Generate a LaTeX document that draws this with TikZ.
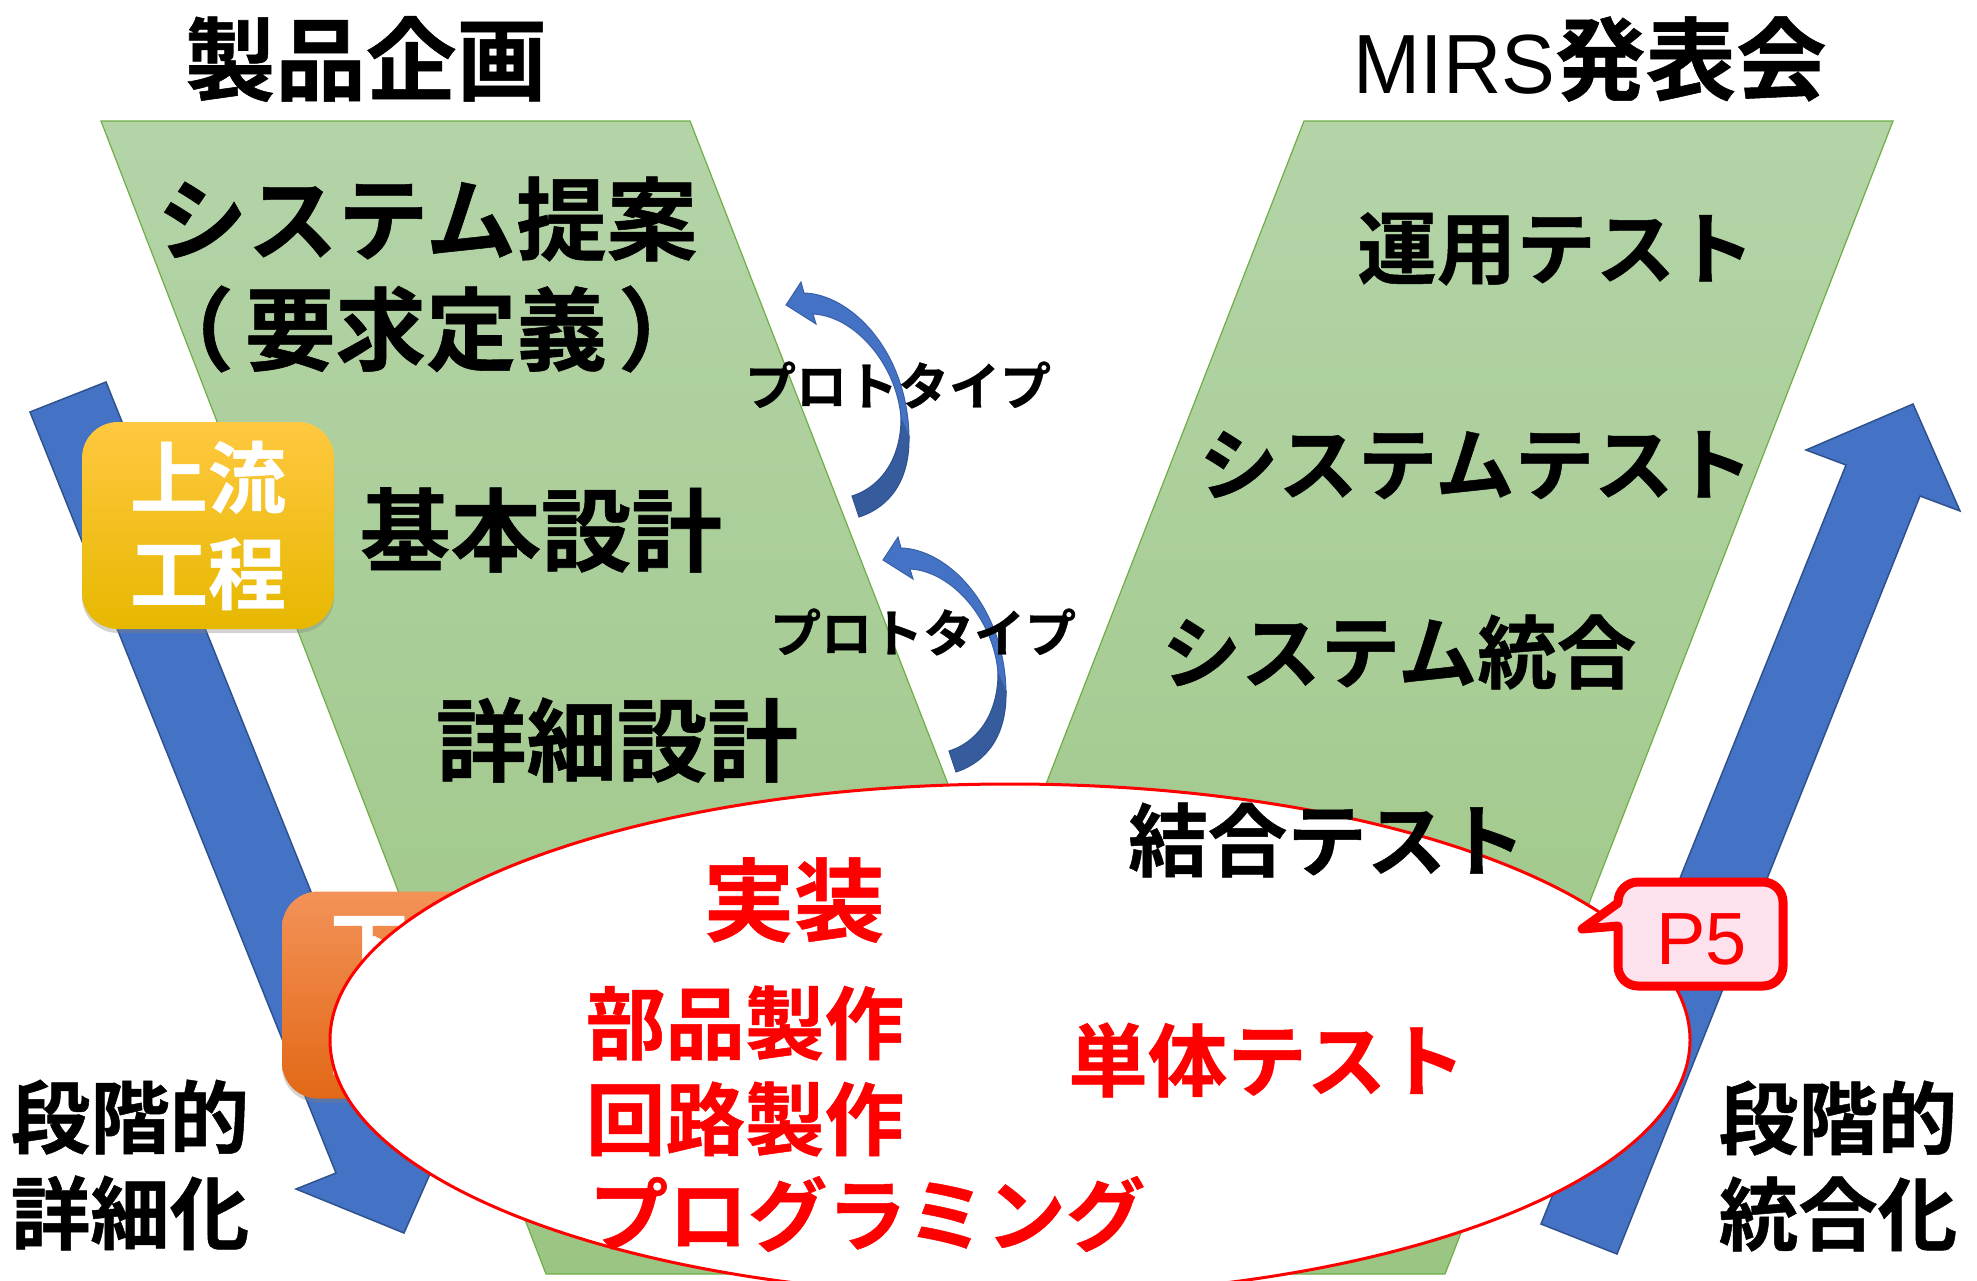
\documentclass[tikz,border=0pt]{standalone}
\usepackage{fontspec}
\setmainfont{Noto Sans CJK JP}[BoldFont={Noto Sans CJK JP Bold},BoldFeatures={FakeBold=0.6}]
\newfontfamily\latinfont{Liberation Sans}
\newfontfamily\mirsfont{Liberation Sans}[FakeStretch=0.96]
\usetikzlibrary{shadows}
\definecolor{vgreen}{HTML}{70AD47}
\definecolor{bluefill}{HTML}{4472C4}
\definecolor{blueedge}{HTML}{2F528F}
\definecolor{bluedark}{HTML}{375C9D}
\tikzset{
  big/.style={inner sep=0pt,font=\bfseries\fontsize{90.5}{100}\selectfont,text=black},
  mid/.style={inner sep=0pt,font=\bfseries\fontsize{79.5}{96}\selectfont,text=black,align=center},
  redmid/.style={mid,text=red},
  proto/.style={inner sep=0pt,font=\bfseries\fontsize{51}{60}\selectfont,text=black},
  bluearrow/.style={fill=bluefill,draw=blueedge,line width=1.5pt,line join=miter},
  flowbox/.style={rounded corners=36pt,minimum width=252pt,minimum height=207pt,inner sep=0pt,
    text=white,align=center,font=\bfseries\fontsize{78}{96}\selectfont,
    drop shadow={shadow xshift=0pt,shadow yshift=-4pt,opacity=.35}},
}
\begin{document}
\begin{tikzpicture}[x=1pt,y=-1pt]
\useasboundingbox (0,0) rectangle (1977,1280);
\clip (0,0) rectangle (1977,1280);
% big arrows
\draw[bluearrow] (30,412) -- (106,382) -- (412,1143) -- (451,1126) -- (404,1233) -- (296,1189) -- (336,1173) -- cycle;
\draw[bluearrow] (1541,1224) -- (1846,465) -- (1806,450) -- (1913,404) -- (1960,511) -- (1920,496) -- (1617,1254) -- cycle;
% V shape
\shadedraw[top color={rgb,255:red,180;green,212;blue,168},bottom color={rgb,255:red,155;green,197;blue,130},draw=vgreen,line width=1.2pt]
  (101,121) -- (690,121) -- (997,910) -- (1304,121) -- (1893,121) -- (1445,1274) -- (546,1274) -- cycle;
% curved arrows
\foreach \dx/\dy in {0/0,97/255}{
\begin{scope}[xshift=\dx pt,yshift=-\dy pt]
\fill[bluedark,draw=blueedge,line width=1pt] (852,496) .. controls (878,488) and (901,462) .. (901,418) -- (909,436) .. controls (910,480) and (890,507) .. (859,517) -- cycle;
\fill[bluefill,draw=bluefill!85!black,line width=1pt] (786,305) -- (801,282) -- (804,293) .. controls (850,294) and (907,350) .. (909,436) -- (901,418) .. controls (897,365) and (855,316) .. (813,314) -- (816,324) -- cycle;
\end{scope}}
% labels on V
\node[proto] (p1) at (898,385) {プロトタイプ};
\node[proto] (p2) at (923,632) {プロトタイプ};
\node[big] (t1) at (366,59) {製品企画};
\node[big] (t2) at (1590,59) {{\mirsfont\mdseries\fontsize{84}{100}\selectfont MIRS}発表会};
\node[big] (a1) at (427,219) {システム提案};
\node[big] (a2) at (426,329) {（\kern 11pt 要求定義\kern 11pt ）};
\node[big] (a3) at (541,530) {基本設計};
\node[big] (a4) at (617,740) {詳細設計};
\node[mid] (b1) at (1556,249) {運用テスト};
\node[mid] (b2) at (1476,465) {システムテスト};
\node[mid] (b3) at (1399,652) {システム統合};
% boxes
\node[flowbox,top color={rgb,255:red,255;green,200;blue,64},middle color={rgb,255:red,255;green,194;blue,4},bottom color={rgb,255:red,230;green,184;blue,0}] (up) at (208,525.5) {上流\\工程};
\node[flowbox,top color={rgb,255:red,243;green,146;blue,88},middle color={rgb,255:red,244;green,122;blue,36},bottom color={rgb,255:red,226;green,104;blue,22}] (down) at (408,995) {下流\\工程};
% ellipse
\draw[red,fill=white,line width=3pt] (1010,1040) ellipse [x radius=680,y radius=256];
% texts over ellipse
\node[mid] (b4) at (1327,840) {結合テスト};
\node[big,text=red] (c1) at (794,900) {実装};
\node[redmid] (c2) at (745,1023) {部品製作};
\node[redmid] (c3) at (745,1119) {回路製作};
\node[redmid] (c4) at (867,1214) {プログラミング};
\node[redmid] (c5) at (1267,1060) {単体テスト};
\node[mid] (d1) at (130,1165) {段階的\\詳細化};
\node[mid] (d2) at (1838,1166) {段階的\\統合化};
% P5 callout
\draw[red,fill={rgb,255:red,253;green,226;blue,238},line width=9pt,line join=round,rounded corners=22pt,
  drop shadow={shadow xshift=2pt,shadow yshift=-4pt,opacity=.45}]
  (1582,929) [sharp corners] -- (1618,903) [rounded corners=20pt] -- (1618,882) -- (1783,882) -- (1783,986) -- (1618,986) [sharp corners] -- (1618,926) -- cycle;
\node[inner sep=0pt,text=red,font=\latinfont\fontsize{74}{80}\selectfont] (p5) at (1701.5,939) {P5};
\end{tikzpicture}
\end{document}
